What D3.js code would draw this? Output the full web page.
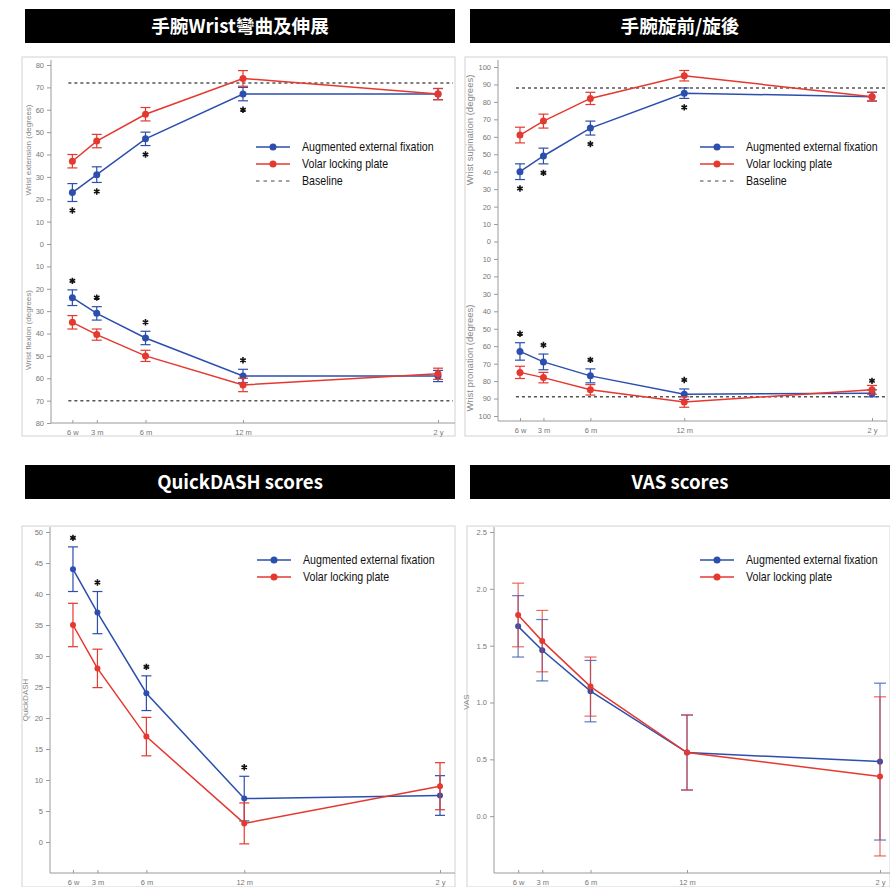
<!DOCTYPE html>
<html>
<head>
<meta charset="utf-8">
<script src="https://cdn.jsdelivr.net/npm/d3@7"></script>
<style>
  body { margin: 0; background: #fff; }
</style>
</head>
<body>
<div id="container"></div>
<script>
// follow-up time points in months, shared by all four panels
const months = [1.5, 3, 6, 12, 24];
const monthLabels = ["6 w", "3 m", "6 m", "12 m", "2 y"];

// wrist extension / flexion (degrees), mean and error bar half-length
const extFixation = [23, 31, 47, 67, 67];
const extFixationErr = [4, 3.5, 3, 3, 2.5];
const extPlate = [37, 46, 58, 74, 67];
const extPlateErr = [3, 3, 3, 3.5, 2.5];
const flexFixation = [24, 31, 42, 59, 59];
const flexFixationErr = [3.5, 3, 3, 3, 2.5];
const flexPlate = [35, 40.5, 50, 63, 58];
const flexPlateErr = [3, 2.5, 2.5, 3, 2.5];
const extBaseline = 72;
const flexBaseline = 70;
const extSig = [1, 1, 1, 1, 0];
const flexSig = [1, 1, 1, 1, 0];

// wrist supination / pronation (degrees)
const supFixation = [40, 49, 65, 85, 83];
const supFixationErr = [4.5, 4.5, 4, 3, 2.5];
const supPlate = [61, 69, 82, 95, 83];
const supPlateErr = [4.5, 4, 3.5, 3, 2.5];
const proFixation = [63, 69, 77, 87.5, 87];
const proFixationErr = [5, 4.5, 4, 3, 2];
const proPlate = [75, 78, 85, 92, 85];
const proPlateErr = [3.5, 3, 3, 3, 2.5];
const supBaseline = 88;
const proBaseline = 89;
const supSig = [1, 1, 1, 1, 0];
const proSig = [1, 1, 1, 1, 1];

// QuickDASH scores
const dashFixation = [44, 37, 24, 7, 7.5];
const dashFixationErr = [3.6, 3.4, 2.8, 3.6, 3.2];
const dashPlate = [35, 28, 17, 3, 9];
const dashPlateErr = [3.5, 3.1, 3.1, 3.3, 3.8];
const dashSig = [1, 1, 1, 1, 0];

// VAS scores
const vasFixation = [1.67, 1.46, 1.10, 0.56, 0.48];
const vasFixationErr = [0.27, 0.27, 0.27, 0.33, 0.69];
const vasPlate = [1.77, 1.54, 1.14, 0.56, 0.35];
const vasPlateErr = [0.28, 0.27, 0.26, 0.33, 0.70];

// tick values
const angleTicks80 = d3.range(-80, 81, 10);
const angleTicks100 = d3.range(-100, 101, 10);
const dashTicks = d3.range(0, 51, 5);
const vasTicks = [0, 0.5, 1, 1.5, 2, 2.5];

const blue = "#2c4fae";
const red = "#e5382f";
const legendFont = "'Liberation Sans', Arial, sans-serif";
const axisFont = "'Liberation Sans', Arial, sans-serif";

const svg = d3.select("#container")
    .append("svg")
    .attr("width", 890)
    .attr("height", 887);

const neg = arr => arr.map(v => -v);

function panel(p) {
    const g = svg.append("g");

    //light frame round the plot
    g.append("rect")
        .attr("x", p.frame[0]).attr("y", p.frame[1])
        .attr("width", p.frame[2]).attr("height", p.frame[3])
        .attr("fill", "none")
        .attr("stroke", "#d2d2d2");

    //black title bar
    g.append("rect")
        .attr("x", p.bar[0]).attr("y", p.bar[1])
        .attr("width", p.bar[2]).attr("height", 34)
        .attr("fill", "#000");
    g.append("text")
        .attr("x", p.bar[0] + p.bar[2] / 2)
        .attr("y", p.bar[1] + 24)
        .attr("text-anchor", "middle")
        .attr("fill", "#fff")
        .attr("font-weight", "bold")
        .attr("font-size", 18.6)
        .attr("font-family", "'Noto Sans CJK TC', 'Noto Sans', sans-serif")
        .text(p.title);

    const x = d3.scaleLinear().domain([0, 24]).range(p.xRange);
    const y = d3.scaleLinear().domain(p.yDomain).range(p.yRange);

    //axis lines
    g.append("line")
        .attr("x1", p.axisX).attr("x2", p.axisX)
        .attr("y1", p.axisTop).attr("y2", p.axisY)
        .attr("stroke", "#9a9a9a");
    g.append("line")
        .attr("x1", p.axisX).attr("x2", p.frame[0] + p.frame[2])
        .attr("y1", p.axisY).attr("y2", p.axisY)
        .attr("stroke", "#9a9a9a");

    //left axis ticks and labels
    const yAxis = g.append("g")
        .attr("transform", `translate(${p.axisX},0)`)
        .call(d3.axisLeft(y).tickValues(p.yTicks).tickFormat(p.yFormat).tickSize(4).tickPadding(3));
    yAxis.select(".domain").remove();
    yAxis.selectAll("line").attr("stroke", "#9a9a9a");
    yAxis.selectAll("text").attr("fill", "#777").attr("font-size", 7.5).attr("font-family", axisFont);

    //bottom axis ticks and labels
    const xAxis = g.append("g")
        .attr("transform", `translate(0,${p.axisY})`)
        .call(d3.axisBottom(x).tickValues(months).tickFormat((d, i) => monthLabels[i]).tickSize(-3).tickPadding(7));
    xAxis.select(".domain").remove();
    xAxis.selectAll("line").attr("stroke", "#9a9a9a");
    xAxis.selectAll("text").attr("fill", "#777").attr("font-size", 7.5).attr("font-family", axisFont);

    //rotated axis titles
    p.yTitles.forEach(t => {
        g.append("text")
            .attr("transform", `translate(${p.titleX},${t.y}) rotate(-90)`)
            .attr("text-anchor", "middle")
            .attr("fill", "#888")
            .attr("font-size", t.size || 8)
            .attr("font-family", axisFont)
            .text(t.text);
    });

    //dashed baselines
    (p.baselines || []).forEach(b => {
        g.append("line")
            .attr("x1", x(months[0]) - 4).attr("x2", p.frame[0] + p.frame[2] - 2)
            .attr("y1", y(b)).attr("y2", y(b))
            .attr("stroke", "#555")
            .attr("stroke-width", 1.5)
            .attr("stroke-dasharray", "3,3");
    });

    //error bars, lines and markers for each series
    p.series.forEach(s => {
        s.values.forEach((v, i) => {
            const cx = x(months[i]);
            const top = y(v + s.errors[i]);
            const bottom = y(v - s.errors[i]);
            g.append("line")
                .attr("x1", cx).attr("x2", cx).attr("y1", top).attr("y2", bottom)
                .attr("stroke", s.color).attr("stroke-width", 1.2).attr("opacity", p.errOpacity || 1);
            [top, bottom].forEach(cy => {
                g.append("line")
                    .attr("x1", cx - p.cap).attr("x2", cx + p.cap).attr("y1", cy).attr("y2", cy)
                    .attr("stroke", s.color).attr("stroke-width", 1.2).attr("opacity", p.errOpacity || 1);
            });
        });

        g.append("path")
            .datum(s.values)
            .attr("fill", "none")
            .attr("stroke", s.color)
            .attr("stroke-width", 1.5)
            .attr("d", d3.line().x((d, i) => x(months[i])).y(d => y(d)));

        g.selectAll(null)
            .data(s.values)
            .join("circle")
            .attr("cx", (d, i) => x(months[i]))
            .attr("cy", d => y(d))
            .attr("r", p.r)
            .attr("fill", s.color);
    });

    //significance stars next to the fixation series
    (p.stars || []).forEach(st => {
        st.flags.forEach((f, i) => {
            if (!f) return;
            const sy = y(st.values[i] + st.dir * st.errors[i]) - st.dir * 9;
            g.append("path")
                .attr("transform", `translate(${x(months[i])},${sy})`)
                .attr("d", d3.symbol(d3.symbolAsterisk, 28)())
                .attr("fill", "none")
                .attr("stroke", "#111")
                .attr("stroke-width", 1.6);
        });
    });

    //legend, text squeezed horizontally to look condensed
    p.legend.items.forEach((item, i) => {
        const ly = p.legend.y + i * 17;
        const lx = p.legend.x;
        g.append("line")
            .attr("x1", lx).attr("x2", lx + 34)
            .attr("y1", ly).attr("y2", ly)
            .attr("stroke", item.color)
            .attr("stroke-width", item.dashed ? 1 : 1.5)
            .attr("stroke-dasharray", item.dashed ? "3.5,4" : null);
        if (!item.dashed) {
            g.append("circle")
                .attr("cx", lx + 17).attr("cy", ly).attr("r", 3.5)
                .attr("fill", item.color);
        }
        g.append("text")
            .attr("transform", `translate(${lx + 46},${ly + 4}) scale(0.85,1)`)
            .attr("font-size", 12.5)
            .attr("font-family", legendFont)
            .attr("fill", "#111")
            .text(item.label);
    });
}

const legend3 = [
    { label: "Augmented external fixation", color: blue },
    { label: "Volar locking plate", color: red },
    { label: "Baseline", color: "#444", dashed: true }
];

panel({
    title: "手腕Wrist彎曲及伸展",
    bar: [25, 9, 430],
    frame: [22, 57, 433, 379],
    xRange: [48, 438],
    yDomain: [-80, 80], yRange: [423, 65],
    yTicks: angleTicks80, yFormat: d => Math.abs(d),
    axisX: 51, axisY: 423, axisTop: 60,
    titleX: 31,
    yTitles: [
        { text: "Wrist extension (degrees)", y: 150 },
        { text: "Wrist flexion (degrees)", y: 330 }
    ],
    baselines: [extBaseline, -flexBaseline],
    cap: 5, r: 3.5,
    series: [
        { values: extFixation, errors: extFixationErr, color: blue },
        { values: neg(flexFixation), errors: flexFixationErr, color: blue },
        { values: extPlate, errors: extPlateErr, color: red },
        { values: neg(flexPlate), errors: flexPlateErr, color: red }
    ],
    stars: [
        { values: extFixation, errors: extFixationErr, flags: extSig, dir: -1 },
        { values: neg(flexFixation), errors: flexFixationErr, flags: flexSig, dir: 1 }
    ],
    legend: { x: 256, y: 147, items: legend3 }
});

panel({
    title: "手腕旋前/旋後",
    bar: [470, 9, 420],
    frame: [465, 57, 422, 379],
    xRange: [496.5, 872],
    yDomain: [-100, 100], yRange: [416, 67],
    yTicks: angleTicks100, yFormat: d => Math.abs(d),
    axisX: 498, axisY: 421, axisTop: 60,
    titleX: 473,
    yTitles: [
        { text: "Wrist supination (degrees)", y: 130, size: 9.5 },
        { text: "Wrist pronation (degrees)", y: 358, size: 9.5 }
    ],
    baselines: [supBaseline, -proBaseline],
    cap: 5, r: 3.5,
    series: [
        { values: supFixation, errors: supFixationErr, color: blue },
        { values: neg(proFixation), errors: proFixationErr, color: blue },
        { values: supPlate, errors: supPlateErr, color: red },
        { values: neg(proPlate), errors: proPlateErr, color: red }
    ],
    stars: [
        { values: supFixation, errors: supFixationErr, flags: supSig, dir: -1 },
        { values: neg(proFixation), errors: proFixationErr, flags: proSig, dir: 1 }
    ],
    legend: { x: 700, y: 147, items: legend3 }
});

panel({
    title: "QuickDASH scores",
    bar: [25, 465, 430],
    frame: [22, 526, 433, 361],
    xRange: [48.5, 440],
    yDomain: [-5, 50], yRange: [873, 532],
    yTicks: dashTicks, yFormat: d3.format("d"),
    axisX: 50, axisY: 873, axisTop: 527,
    titleX: 28,
    yTitles: [{ text: "QuickDASH", y: 700 }],
    cap: 5, r: 3,
    series: [
        { values: dashFixation, errors: dashFixationErr, color: blue },
        { values: dashPlate, errors: dashPlateErr, color: red }
    ],
    stars: [
        { values: dashFixation, errors: dashFixationErr, flags: dashSig, dir: 1 }
    ],
    legend: { x: 257, y: 560, items: legend3.slice(0, 2) }
});

panel({
    title: "VAS scores",
    bar: [470, 465, 420],
    frame: [467, 526, 423, 361],
    xRange: [494, 880],
    yDomain: [-0.5, 2.5], yRange: [873, 532],
    yTicks: vasTicks, yFormat: d3.format(".1f"),
    axisX: 494, axisY: 873, axisTop: 527,
    titleX: 469,
    yTitles: [{ text: "VAS", y: 702 }],
    cap: 6, r: 3, errOpacity: 0.75,
    series: [
        { values: vasFixation, errors: vasFixationErr, color: blue },
        { values: vasPlate, errors: vasPlateErr, color: red }
    ],
    legend: { x: 700, y: 560, items: legend3.slice(0, 2) }
});
</script>
</body>
</html>
